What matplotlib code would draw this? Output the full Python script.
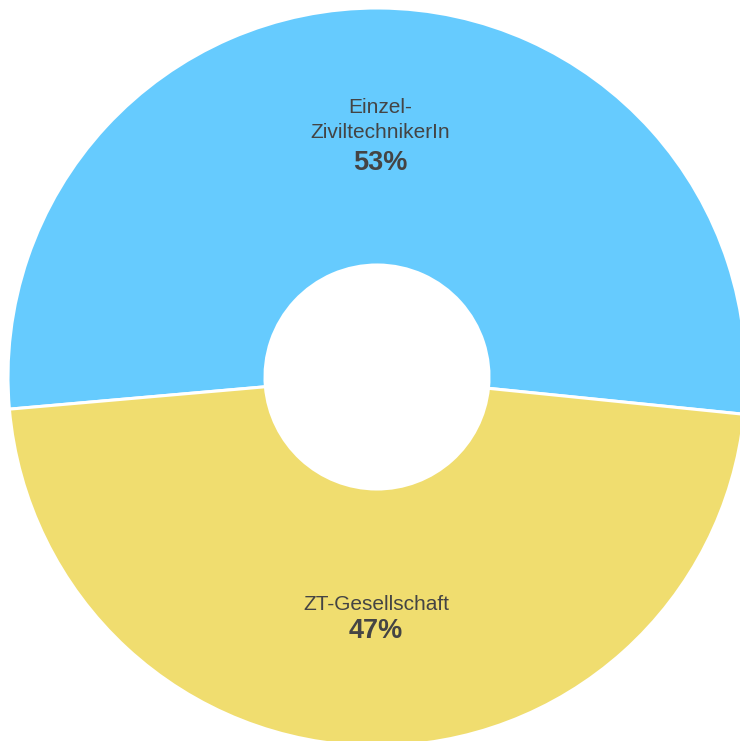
import matplotlib
matplotlib.use("Agg")
import matplotlib.pyplot as plt

# data
categories = ["Einzel-\nZiviltechnikerIn", "ZT-Gesellschaft"]
shares = [53, 47]
colors = ["#66CBFE", "#F0DD6F"]

plt.rcParams['font.family'] = ['Liberation Sans', 'DejaVu Sans']

fig = plt.figure(figsize=(7.40, 7.41), dpi=100)
ax = fig.add_axes([0, 0, 1, 1])
ax.set_xlim(0, 740)
ax.set_ylim(0, 741)
ax.set_aspect('equal')
ax.axis('off')

cx, cy, r = 377, 364, 369
ax.pie(shares, colors=colors, startangle=185.0, counterclock=False,
       center=(cx, cy), radius=r,
       wedgeprops=dict(width=257, edgecolor='white', linewidth=2.2))

# labels: name + bold percentage (y measured from the bottom)
label_pos = [(380, 621, 578), (376, 136, 110)]
for name, val, (x, y_name, y_pct) in zip(categories, shares, label_pos):
    ax.text(x, y_name, name, ha='center', va='center', fontsize=15,
            color='#444444', linespacing=1.4)
    ax.text(x, y_pct, f"{val}%", ha='center', va='center', fontsize=19.5,
            fontweight='bold', color='#444444')

ax.set_xlim(0, 740)
ax.set_ylim(0, 741)
fig.savefig("out.png", dpi=100)
